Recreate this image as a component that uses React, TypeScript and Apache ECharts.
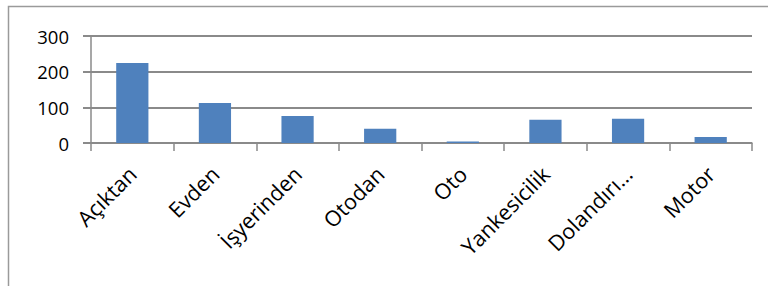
import React, { useEffect, useRef } from "react";
import * as echarts from "echarts";

const categories = ["Açıktan", "Evden", "İşyerinden", "Otodan", "Oto", "Yankesicilik", "Dolandırı…", "Motor"];
const values = [224, 112, 76, 40, 4, 65, 68, 17];
const yTicks = { min: 0, max: 300, interval: 100 };

export default function App() {
  const ref = useRef<HTMLDivElement>(null);
  useEffect(() => {
    const chart = echarts.init(ref.current!, null, { renderer: "svg" });
    const font = "'Open Sans', sans-serif";
    chart.setOption({
      animation: false,
      backgroundColor: "#ffffff",
      graphic: [
        {
          type: "rect",
          shape: { x: 8.5, y: 6.5, width: 900, height: 400 },
          style: { fill: "none", stroke: "#9a9a9a", lineWidth: 1.5 },
          silent: true,
          z: -1,
        },
      ],
      grid: { left: 91, right: 16, top: 36, bottom: 143, containLabel: false },
      xAxis: {
        type: "category",
        data: categories,
        axisLine: { show: true, lineStyle: { color: "#8a8a8a", width: 1.5 } },
        axisTick: { show: true, length: 8, alignWithLabel: false, lineStyle: { color: "#8a8a8a", width: 1.5 } },
        axisLabel: {
          rotate: 45,
          interval: 0,
          margin: 27,
          fontFamily: font,
          fontSize: 21.5,
          color: "#000",
        },
      },
      yAxis: {
        type: "value",
        min: yTicks.min,
        max: yTicks.max,
        interval: yTicks.interval,
        axisLine: { show: true, lineStyle: { color: "#8a8a8a", width: 1.5 } },
        axisTick: { show: true, length: 8, lineStyle: { color: "#8a8a8a", width: 2 } },
        splitLine: { show: true, lineStyle: { color: "#8a8a8a", width: 2 } },
        axisLabel: {
          margin: 22,
          fontFamily: font,
          fontSize: 18.5,
          color: "#000",
        },
      },
      series: [
        {
          type: "bar",
          data: values,
          barWidth: "39%",
          itemStyle: { color: "#4F81BD" },
        },
      ],
    });
    return () => chart.dispose();
  }, []);
  return <div ref={ref} style={{ position: "fixed", left: 0, top: 0, width: 768, height: 286 }} />;
}
